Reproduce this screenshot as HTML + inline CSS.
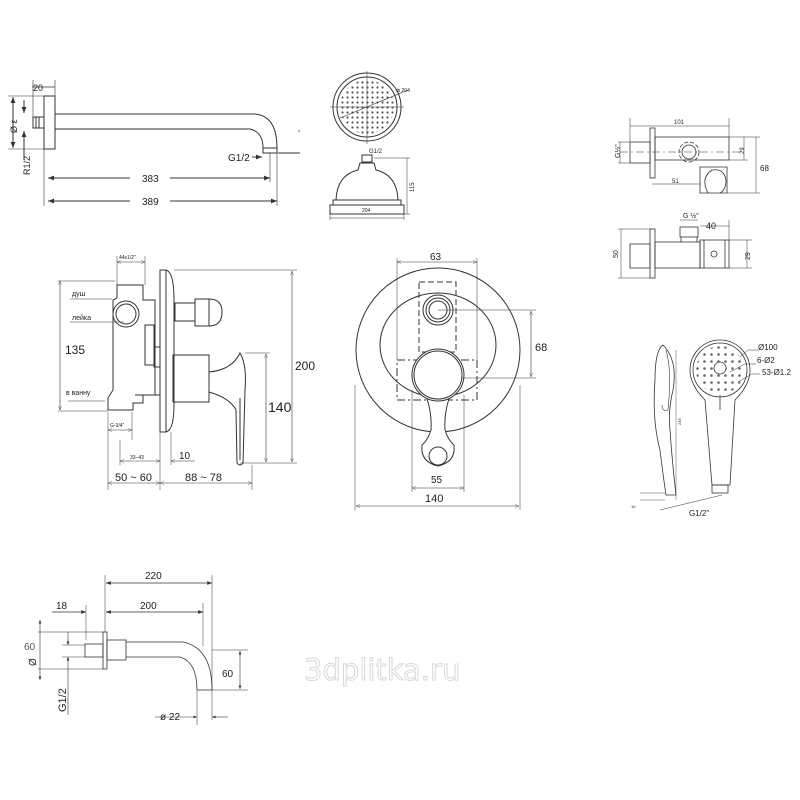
<!DOCTYPE html>
<html><head><meta charset="utf-8"><style>
html,body{margin:0;padding:0;background:#fff;}
svg{display:block;font-family:"Liberation Sans",sans-serif;}
</style></head><body>
<svg width="800" height="800" viewBox="0 0 800 800" xmlns="http://www.w3.org/2000/svg">
<defs>
<marker id="a" viewBox="0 0 10 10" refX="10" refY="5" markerWidth="6" markerHeight="6" orient="auto-start-reverse"><path d="M0,1 L10,5 L0,9 z" fill="#333"/></marker>
<marker id="o" viewBox="0 0 10 10" refX="10" refY="5" markerWidth="7" markerHeight="7" orient="auto-start-reverse"><path d="M0,1 L10,5 L0,9" fill="none" stroke="#555"/></marker>
<pattern id="dots" x="0" y="0" width="5" height="5" patternUnits="userSpaceOnUse"><circle cx="2.5" cy="2.5" r="1.1" fill="#555"/></pattern>
<pattern id="dots2" x="1" y="1" width="7" height="7" patternUnits="userSpaceOnUse"><circle cx="3.5" cy="3.5" r="1.3" fill="#666"/></pattern>
</defs>
<rect width="800" height="800" fill="#fff"/>
<g fill="none" stroke="#333" stroke-width="1">
<!-- Section 1 shower arm -->
<rect x="33" y="117" width="11" height="11"/>
<line x1="36" y1="117" x2="36" y2="128"/><line x1="39" y1="117" x2="39" y2="128"/>
<rect x="44" y="96" width="11" height="53"/>
<path d="M55,114 L255,114 Q277,116 277,148"/>
<path d="M55,129 L250,129 Q263,132 263,148"/>
<rect x="263" y="148" width="14" height="5"/>
<line x1="278" y1="153" x2="300" y2="153"/>
<line x1="32" y1="87" x2="55" y2="87" stroke-width="0.8"/>
<line x1="33" y1="80" x2="33" y2="117" stroke-width="0.6"/>
<line x1="55" y1="80" x2="55" y2="96" stroke-width="0.6"/>
<line x1="8" y1="96" x2="44" y2="96" stroke-width="0.6"/>
<line x1="8" y1="149" x2="44" y2="149" stroke-width="0.6"/>
<line x1="13" y1="97" x2="13" y2="148" marker-start="url(#a)" marker-end="url(#a)"/>
<line x1="24" y1="100" x2="24" y2="113" marker-end="url(#a)"/>
<line x1="24" y1="160" x2="24" y2="131" marker-end="url(#a)"/>
<line x1="44" y1="149" x2="44" y2="206" stroke-width="0.6"/>
<line x1="277" y1="153" x2="277" y2="206" stroke-width="0.6"/>
<line x1="270" y1="153" x2="270" y2="182" stroke-width="0.6"/>
<line x1="48" y1="178" x2="130" y2="178" marker-start="url(#a)"/><line x1="170" y1="178" x2="270" y2="178" marker-end="url(#a)"/>
<line x1="48" y1="201" x2="130" y2="201" marker-start="url(#a)"/><line x1="170" y1="201" x2="277" y2="201" marker-end="url(#a)"/>
<line x1="252" y1="157" x2="262" y2="157" marker-end="url(#a)"/>
<!-- shower head top -->
<circle cx="367" cy="107" r="34"/>
<circle cx="367" cy="107" r="30"/>
<circle cx="367" cy="107" r="27" fill="url(#dots)" stroke="none"/>
<line x1="330" y1="107" x2="404" y2="107" stroke-width="0.5"/>
<line x1="367" y1="71" x2="367" y2="144" stroke-width="0.5"/>
<line x1="340" y1="118" x2="408" y2="90" stroke-width="0.6"/>
<!-- shower head side -->
<rect x="362" y="155" width="10" height="7"/>
<path d="M360,163 L374,163 L376,170 Q397,175 398,200 L336,200 Q337,175 358,170 Z"/>
<rect x="333" y="200" width="68" height="5"/>
<rect x="330" y="205" width="74" height="9"/>
<line x1="330" y1="218" x2="404" y2="218" stroke-width="0.5"/>
<line x1="330" y1="214" x2="330" y2="220" stroke-width="0.5"/><line x1="404" y1="214" x2="404" y2="220" stroke-width="0.5"/>
<line x1="374" y1="158" x2="410" y2="158" stroke-width="0.5"/>
<line x1="404" y1="214" x2="410" y2="214" stroke-width="0.5"/>
<line x1="407" y1="158" x2="407" y2="214" stroke-width="0.5"/>

<!-- Section 2 mixer side -->
<path d="M160,270 L166,270 Q174,272 174,300 L174,405 Q174,430 166,432 L160,432 Z"/>
<line x1="166" y1="270" x2="166" y2="432"/>
<path d="M117,285 L143,285 L143,300 L155,300 L155,395 L143,395 L143,403 L133,403 L133,410 L108,410 L108,398 L113,390 L113,300 L117,298 Z"/>
<circle cx="126" cy="314" r="13"/><circle cx="126" cy="314" r="10"/>
<rect x="145" y="325" width="9" height="40"/>
<rect x="154" y="347" width="6" height="20"/>
<line x1="135" y1="395" x2="160" y2="395"/>
<rect x="175" y="303" width="20" height="18"/>
<rect x="195" y="299" width="14" height="27"/>
<path d="M209,299 Q222,299 222,312 Q222,326 209,326"/>
<rect x="173" y="355" width="36" height="47"/>
<path d="M209,372 Q232,370 240,353 Q247,365 245,390 L243,463 Q240,467 237,463 L236,410 Q230,398 209,392"/>
<path d="M240,398 L240,460"/>
<line x1="117" y1="262" x2="145" y2="262" stroke-width="0.6" marker-start="url(#o)" marker-end="url(#o)"/>
<line x1="117" y1="256" x2="117" y2="285" stroke-width="0.5"/><line x1="145" y1="256" x2="145" y2="285" stroke-width="0.5"/>
<line x1="60" y1="281" x2="60" y2="410" stroke-width="0.6" marker-start="url(#o)" marker-end="url(#o)"/>
<line x1="58" y1="281" x2="115" y2="281" stroke-width="0.5"/><line x1="58" y1="411" x2="108" y2="411" stroke-width="0.5"/>
<line x1="70" y1="299" x2="112" y2="299" stroke-width="0.5"/>
<line x1="70" y1="322" x2="124" y2="322" stroke-width="0.5"/>
<line x1="68" y1="401" x2="105" y2="401" stroke-width="0.5"/>
<line x1="108" y1="430" x2="132" y2="430" stroke-width="0.6" marker-start="url(#o)" marker-end="url(#o)"/>
<line x1="108" y1="412" x2="108" y2="490" stroke-width="0.5"/><line x1="132" y1="412" x2="132" y2="440" stroke-width="0.5"/>
<line x1="120" y1="440" x2="120" y2="465" stroke-width="0.5"/>
<line x1="120" y1="461" x2="160" y2="461" stroke-width="0.6" marker-start="url(#o)" marker-end="url(#o)"/>
<line x1="160" y1="432" x2="160" y2="490" stroke-width="0.5"/><line x1="171" y1="432" x2="171" y2="465" stroke-width="0.5"/>
<line x1="171" y1="461" x2="195" y2="461" stroke-width="0.6" marker-start="url(#o)"/>
<line x1="108" y1="483" x2="160" y2="483" stroke-width="0.6" marker-start="url(#o)" marker-end="url(#o)"/>
<line x1="160" y1="483" x2="252" y2="483" stroke-width="0.6" marker-start="url(#o)" marker-end="url(#o)"/>
<line x1="252" y1="465" x2="252" y2="490" stroke-width="0.5"/>
<line x1="174" y1="270" x2="297" y2="270" stroke-width="0.5"/><line x1="240" y1="463" x2="297" y2="463" stroke-width="0.5"/>
<line x1="292" y1="271" x2="292" y2="462" stroke-width="0.6" marker-start="url(#o)" marker-end="url(#o)"/>
<line x1="245" y1="353" x2="270" y2="353" stroke-width="0.5"/>
<line x1="266" y1="354" x2="266" y2="462" stroke-width="0.6" marker-start="url(#o)" marker-end="url(#o)"/>

<!-- Section 3 front -->
<circle cx="438" cy="350" r="82"/>
<ellipse cx="438" cy="345" rx="58" ry="52"/>
<rect x="419" y="282" width="37" height="70" stroke-dasharray="6,3"/>
<rect x="397" y="360" width="80" height="40" stroke-dasharray="8,3,2,3"/>
<circle cx="438" cy="310" r="15" fill="#fff"/><circle cx="438" cy="310" r="12"/><circle cx="438" cy="310" r="9"/>
<path d="M426,396 Q432,412 431,430 Q428,440 422,445 Q420,462 438,466 Q456,462 454,445 Q448,440 445,430 Q444,412 450,396" fill="#fff"/>
<circle cx="438" cy="375" r="26" fill="#fff"/><circle cx="438" cy="375" r="24"/>
<circle cx="438" cy="456" r="9"/>
<line x1="397" y1="258" x2="397" y2="360" stroke-width="0.5"/><line x1="477" y1="258" x2="477" y2="360" stroke-width="0.5"/>
<line x1="397" y1="262" x2="477" y2="262" stroke-width="0.6" marker-start="url(#o)" marker-end="url(#o)"/>
<line x1="438" y1="310" x2="536" y2="310" stroke-width="0.5"/><line x1="462" y1="378" x2="536" y2="378" stroke-width="0.5"/>
<line x1="531" y1="311" x2="531" y2="377" stroke-width="0.6" marker-start="url(#o)" marker-end="url(#o)"/>
<line x1="412" y1="390" x2="412" y2="492" stroke-width="0.5"/><line x1="464" y1="395" x2="464" y2="492" stroke-width="0.5"/>
<line x1="412" y1="488" x2="464" y2="488" stroke-width="0.6" marker-start="url(#o)" marker-end="url(#o)"/>
<line x1="355" y1="385" x2="355" y2="510" stroke-width="0.5"/><line x1="520" y1="385" x2="520" y2="510" stroke-width="0.5"/>
<line x1="356" y1="506" x2="519" y2="506" stroke-width="0.6" marker-start="url(#o)" marker-end="url(#o)"/>

<!-- Section 4 wall connector -->
<g stroke-width="0.8">
<rect x="630" y="142" width="20" height="21"/>
<rect x="650" y="128" width="5" height="50"/>
<rect x="655" y="137" width="74" height="23"/>
<circle cx="689" cy="152" r="10" stroke-dasharray="4,2"/><circle cx="689" cy="152" r="7"/>
<line x1="620" y1="152" x2="740" y2="152" stroke-dasharray="8,3,2,3" stroke-width="0.6"/>
<path d="M700,167 L727,167 L727,193 L700,193 Z"/>
<path d="M708,193 Q700,178 712,170 Q724,168 726,180 Q726,190 720,193"/>
<line x1="630" y1="118" x2="630" y2="142" stroke-width="0.5"/><line x1="729" y1="118" x2="729" y2="137" stroke-width="0.5"/>
<line x1="630" y1="126" x2="729" y2="126" stroke-width="0.5"/>
<line x1="729" y1="137" x2="760" y2="137" stroke-width="0.5"/><line x1="729" y1="160" x2="748" y2="160" stroke-width="0.5"/>
<line x1="727" y1="193" x2="760" y2="193" stroke-width="0.5"/>
<line x1="744" y1="137" x2="744" y2="160" stroke-width="0.5"/>
<line x1="756" y1="137" x2="756" y2="193" stroke-width="0.5"/>
<line x1="618" y1="142" x2="630" y2="142" stroke-width="0.5"/><line x1="618" y1="163" x2="630" y2="163" stroke-width="0.5"/>
<line x1="620" y1="142" x2="620" y2="163" stroke-width="0.5"/>
<line x1="652" y1="184" x2="700" y2="184" stroke-width="0.5"/>
<rect x="630" y="244" width="20" height="24"/>
<rect x="650" y="229" width="5" height="49"/>
<rect x="655" y="242" width="45" height="26"/>
<rect x="680" y="227" width="18" height="10"/>
<line x1="681" y1="237" x2="681" y2="242"/><line x1="697" y1="237" x2="697" y2="242"/>
<rect x="700" y="240" width="29" height="28"/>
<line x1="704" y1="240" x2="704" y2="268"/><line x1="725" y1="240" x2="725" y2="268"/>
<circle cx="714" cy="254" r="3"/>
<line x1="680" y1="220" x2="698" y2="220" stroke-width="0.5"/>
<line x1="700" y1="226" x2="729" y2="226" stroke-width="0.5"/>
<line x1="729" y1="220" x2="729" y2="240" stroke-width="0.5"/>
<line x1="729" y1="240" x2="752" y2="240" stroke-width="0.5"/><line x1="729" y1="268" x2="752" y2="268" stroke-width="0.5"/>
<line x1="747" y1="240" x2="747" y2="268" stroke-width="0.5"/>
<line x1="618" y1="229" x2="650" y2="229" stroke-width="0.5"/><line x1="618" y1="278" x2="650" y2="278" stroke-width="0.5"/>
<line x1="621" y1="229" x2="621" y2="278" stroke-width="0.5"/>
</g>

<!-- Section 5 hand shower -->
<g stroke-width="0.8">
<path d="M705,400 Q690,385 690,370 A30,30 0 1 1 750,370 Q750,385 735,400 L730,485 L712,485 Z" fill="#fff"/>
<circle cx="720" cy="370" r="27"/>
<circle cx="720" cy="370" r="24" fill="url(#dots2)" stroke="none"/>
<circle cx="720" cy="368" r="6" fill="#fff"/>
<line x1="720" y1="395" x2="720" y2="410"/>
<rect x="712" y="485" width="16" height="8"/>
<path d="M663,345 Q655,350 655,380 Q652,420 660,450 Q663,475 666,495 L676,495 Q672,460 670,430 Q668,410 673,390 Q678,360 663,345 Z"/>
<path d="M666,350 Q672,370 668,410 Q662,412 662,405" stroke-width="0.6"/>
<line x1="676" y1="350" x2="676" y2="500" stroke-width="0.4"/>
<path d="M740,357 L748,350 L758,350" stroke-width="0.5"/>
<path d="M730,372 L745,364 L756,364" stroke-width="0.5"/>
<path d="M738,382 L752,374 L760,374" stroke-width="0.5"/>
<line x1="660" y1="510" x2="722" y2="495" stroke-width="0.5"/>
<line x1="640" y1="493" x2="665" y2="493" stroke-width="0.4"/>
<line x1="640" y1="500" x2="665" y2="500" stroke-width="0.4"/>
</g>

<!-- Section 6 spout -->
<g stroke-width="0.8">
<rect x="85" y="644" width="18" height="13"/>
<rect x="103" y="632" width="4" height="37"/>
<rect x="107" y="640" width="19" height="20"/>
<path d="M126,642 L183,642 Q212,648 212,690"/>
<path d="M126,657 L180,657 Q197,662 197,690"/>
<line x1="197" y1="690" x2="212" y2="690"/>
<line x1="105" y1="575" x2="105" y2="632" stroke-width="0.5"/>
<line x1="212" y1="575" x2="212" y2="720" stroke-width="0.5"/>
<line x1="203" y1="603" x2="203" y2="646" stroke-width="0.5"/>
<line x1="86" y1="605" x2="86" y2="640" stroke-width="0.5"/>
<line x1="106" y1="583" x2="212" y2="583" marker-start="url(#a)" marker-end="url(#a)"/>
<line x1="106" y1="612" x2="203" y2="612" marker-start="url(#a)" marker-end="url(#a)"/>
<line x1="52" y1="612" x2="86" y2="612" marker-end="url(#a)"/>
<line x1="38" y1="632" x2="103" y2="632" stroke-width="0.5"/><line x1="38" y1="669" x2="103" y2="669" stroke-width="0.5"/>
<line x1="40" y1="620" x2="40" y2="680" marker-start="url(#a)" marker-end="url(#a)" stroke-width="0.6"/>
<line x1="62" y1="645" x2="85" y2="645" stroke-width="0.5"/><line x1="62" y1="657" x2="85" y2="657" stroke-width="0.5"/>
<line x1="68" y1="632" x2="68" y2="645" marker-end="url(#a)" stroke-width="0.6"/>
<line x1="68" y1="715" x2="68" y2="657" marker-end="url(#a)" stroke-width="0.6"/>
<line x1="212" y1="650" x2="248" y2="650" stroke-width="0.5"/><line x1="212" y1="690" x2="248" y2="690" stroke-width="0.5"/>
<line x1="240" y1="651" x2="240" y2="689" marker-start="url(#a)" marker-end="url(#a)" stroke-width="0.6"/>
<line x1="197" y1="690" x2="197" y2="725" stroke-width="0.5"/>
<line x1="155" y1="717" x2="197" y2="717" marker-end="url(#a)" stroke-width="0.6"/>
<line x1="228" y1="717" x2="212" y2="717" marker-end="url(#a)" stroke-width="0.6"/>
</g>
</g>

<!-- Text -->
<g fill="#222">
<text x="33" y="91" font-size="9">20</text>
<text x="0" y="0" font-size="9" transform="translate(17,133) rotate(-90)">Ø ε</text>
<text x="0" y="0" font-size="9" transform="translate(30,175) rotate(-90)">R1/2</text>
<text x="228" y="161" font-size="10">G1/2</text>
<text x="142" y="182" font-size="10">383</text>
<text x="142" y="205" font-size="10">389</text>
<text x="298" y="134" font-size="5">*</text>
<text x="396" y="92" font-size="5">ф 204</text>
<text x="369" y="153" font-size="6">G1/2</text>
<text x="362" y="212" font-size="5">204</text>
<text x="0" y="0" font-size="6" transform="translate(414,192) rotate(-90)">115</text>

<text x="119" y="259" font-size="5">44x1/2"</text>
<text x="72" y="296" font-size="7">душ</text>
<text x="72" y="320" font-size="7">лейка</text>
<text x="66" y="395" font-size="7">в ванну</text>
<text x="65" y="354" font-size="12">135</text>
<text x="110" y="427" font-size="5">G-3/4"</text>
<text x="130" y="459" font-size="5">33–43</text>
<text x="179" y="459" font-size="10">10</text>
<text x="115" y="481" font-size="11">50 ~ 60</text>
<text x="185" y="481" font-size="11">88 ~ 78</text>
<text x="295" y="370" font-size="12">200</text>
<text x="268" y="412" font-size="14">140</text>

<text x="430" y="260" font-size="10">63</text>
<text x="535" y="351" font-size="11">68</text>
<text x="431" y="483" font-size="10">55</text>
<text x="425" y="502" font-size="11">140</text>

<text x="674" y="124" font-size="6">101</text>
<text x="0" y="0" font-size="7" transform="translate(620,158) rotate(-90)">G½"</text>
<text x="0" y="0" font-size="6" transform="translate(744,154) rotate(-90)">29</text>
<text x="760" y="171" font-size="8">68</text>
<text x="672" y="183" font-size="6">51</text>
<text x="683" y="218" font-size="7">G ½"</text>
<text x="706" y="229" font-size="9">40</text>
<text x="0" y="0" font-size="7" transform="translate(618,258) rotate(-90)">50</text>
<text x="0" y="0" font-size="7" transform="translate(750,260) rotate(-90)">29</text>

<text x="758" y="350" font-size="8">Ø100</text>
<text x="757" y="363" font-size="8">6-Ø2</text>
<text x="762" y="375" font-size="8">53-Ø1.2</text>
<text x="689" y="516" font-size="8">G1/2"</text>
<text x="0" y="0" font-size="4" transform="translate(681,425) rotate(-90)">245</text>
<text x="631" y="508" font-size="4">10</text>

<text x="145" y="579" font-size="10">220</text>
<text x="140" y="609" font-size="10">200</text>
<text x="56" y="609" font-size="10">18</text>
<text x="24" y="650" font-size="10" fill="#555">60</text>
<text x="0" y="0" font-size="10" transform="translate(36,666) rotate(-90)">Ø</text>
<text x="0" y="0" font-size="11" transform="translate(66,712) rotate(-90)">G1/2</text>
<text x="222" y="677" font-size="10">60</text>
<text x="160" y="720" font-size="10">ø 22</text>
</g>
<text x="304" y="680" font-size="29" font-family="DejaVu Sans, sans-serif" fill="#fff" stroke="#d8d8d8" stroke-width="1">3dplitka.ru</text>
</svg>
</body></html>
